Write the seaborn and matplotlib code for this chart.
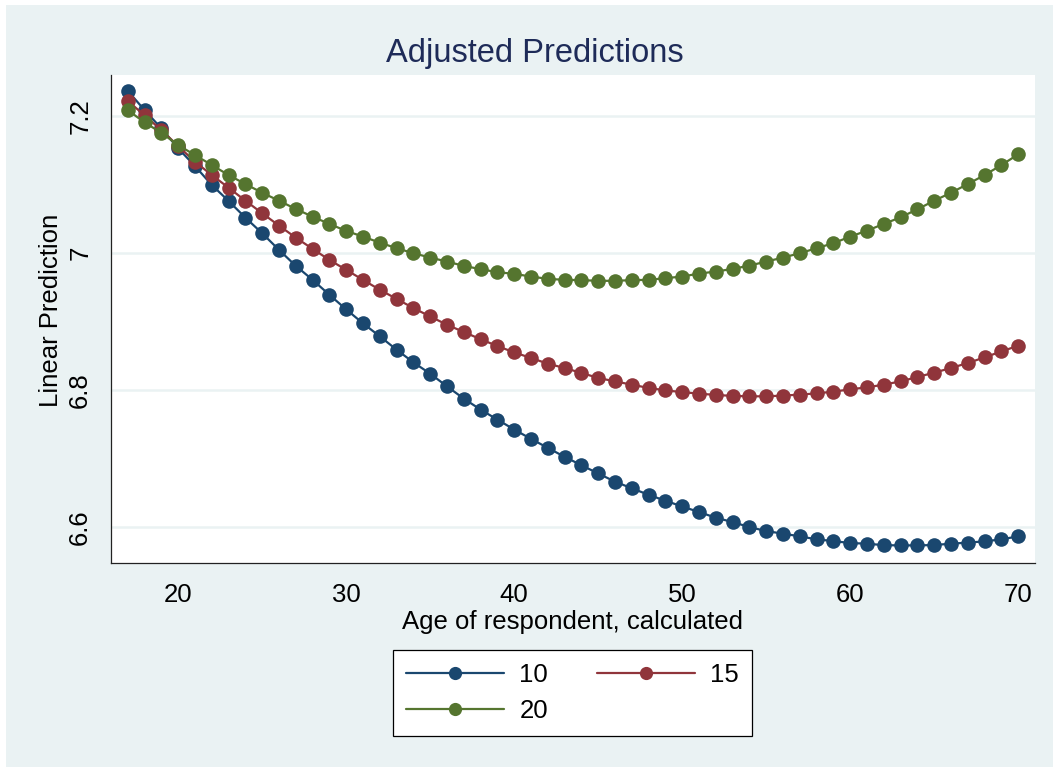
import matplotlib
matplotlib.use("Agg")
import matplotlib.pyplot as plt
import numpy as np
import pandas as pd
import seaborn as sns
from matplotlib.patches import Rectangle


AGES = list(range(17, 71))
GROUPS = ["10", "15", "20"]

PRED_10 = [
    7.2368, 7.2087, 7.1820, 7.1529, 7.1271, 7.0995, 7.0762, 7.0518, 7.0291, 7.0048,
    6.9815, 6.9611, 6.9393, 6.9180, 6.8976, 6.8787, 6.8592, 6.8407, 6.8242, 6.8057,
    6.7878, 6.7718, 6.7572, 6.7427, 6.7291, 6.7160, 6.7029, 6.6907, 6.6786, 6.6667,
    6.6570, 6.6475, 6.6388, 6.6305, 6.6223, 6.6141, 6.6077, 6.6004, 6.5946, 6.5908,
    6.5869, 6.5825, 6.5800, 6.5771, 6.5762, 6.5740, 6.5737, 6.5737, 6.5742, 6.5762,
    6.5777, 6.5796, 6.5825, 6.5869,
]
PRED_15 = [
    7.2222, 7.2010, 7.1796, 7.1563, 7.1334, 7.1140, 7.0955, 7.0766, 7.0583, 7.0402,
    7.0227, 7.0063, 6.9902, 6.9757, 6.9611, 6.9466, 6.9334, 6.9199, 6.9077, 6.8956,
    6.8850, 6.8745, 6.8645, 6.8553, 6.8471, 6.8388, 6.8325, 6.8253, 6.8180, 6.8130,
    6.8082, 6.8034, 6.7999, 6.7973, 6.7951, 6.7932, 6.7918, 6.7912, 6.7912, 6.7922,
    6.7937, 6.7955, 6.7980, 6.8014, 6.8043, 6.8082, 6.8130, 6.8194, 6.8257, 6.8325,
    6.8398, 6.8480, 6.8567, 6.8650,
]
PRED_20 = [
    7.2087, 7.1908, 7.1756, 7.1577, 7.1431, 7.1286, 7.1140, 7.1009, 7.0882, 7.0766,
    7.0645, 7.0533, 7.0427, 7.0325, 7.0242, 7.0154, 7.0073, 7.0000, 6.9936, 6.9878,
    6.9815, 6.9767, 6.9723, 6.9699, 6.9659, 6.9626, 6.9611, 6.9607, 6.9597, 6.9597,
    6.9607, 6.9611, 6.9636, 6.9659, 6.9703, 6.9732, 6.9771, 6.9819, 6.9878, 6.9936,
    7.0000, 7.0073, 7.0146, 7.0242, 7.0329, 7.0427, 7.0524, 7.0641, 7.0766, 7.0882,
    7.1009, 7.1140, 7.1286, 7.1442,
]

X_TICKS = [20, 30, 40, 50, 60, 70]
Y_TICKS = [6.6, 6.8, 7.0, 7.2]
Y_TICK_LABELS = ["6.6", "6.8", "7", "7.2"]

COLORS = ["#1A476F", "#90353B", "#55752F"]
BG = "#EAF2F3"
FONT = ["Liberation Sans", "DejaVu Sans"]

W, H = 1053, 769


def build_frame():
    rows = []
    for group, values in zip(GROUPS, [PRED_10, PRED_15, PRED_20]):
        for age, value in zip(AGES, values):
            rows.append({"age": age, "pred": value, "group": group})
    return pd.DataFrame(rows)


def main():
    sns.set_theme(style="white")
    plt.rcParams["font.family"] = FONT
    plt.rcParams["text.color"] = "black"

    df = build_frame()

    fig = plt.figure(figsize=(W / 100, H / 100), dpi=100, facecolor="white")
    fig.patches.append(
        Rectangle((6 / W, 2 / H), 1 - 6 / W, 1 - 7 / H, transform=fig.transFigure,
                  facecolor=BG, edgecolor="none", zorder=-10)
    )

    ax = fig.add_axes([111 / W, 1 - 563 / H, (1035 - 111) / W, (563 - 75) / H])
    ax.set_facecolor("white")

    sns.lineplot(
        data=df,
        x="age",
        y="pred",
        hue="group",
        hue_order=GROUPS,
        palette=COLORS,
        marker="o",
        markersize=10.5,
        markeredgewidth=0,
        linewidth=1.6,
        ax=ax,
        legend=True,
    )

    ax.set_xlim(16, 71)
    ax.set_ylim(6.548, 7.260)
    ax.set_xticks(X_TICKS)
    ax.set_xticklabels([str(t) for t in X_TICKS])
    ax.set_yticks(Y_TICKS)
    ax.set_yticklabels(Y_TICK_LABELS, rotation=90, va="center")

    ax.grid(axis="y", color=BG, linewidth=1.8)
    ax.grid(axis="x", visible=False)
    ax.set_axisbelow(True)

    for side in ["top", "right"]:
        ax.spines[side].set_visible(False)
    for side in ["left", "bottom"]:
        ax.spines[side].set_color("#222222")
        ax.spines[side].set_linewidth(0.9)

    ax.tick_params(axis="both", direction="out", length=7.5, width=0.9,
                   color="#222222", labelsize=18.5, labelcolor="black")
    ax.tick_params(axis="x", pad=7)
    ax.tick_params(axis="y", pad=6)

    ax.set_xlabel("Age of respondent, calculated", fontsize=18.5, labelpad=2, color="black")
    ax.set_ylabel("Linear Prediction", fontsize=18.5, labelpad=4, color="black")
    ax.yaxis.label.set_y(0.517)

    fig.text(535 / W, 1 - 62 / H, "Adjusted Predictions", ha="center", va="baseline",
             fontsize=23.5, color="#1E2B58")

    handles, labels = ax.get_legend_handles_labels()
    ax.get_legend().remove()
    # legend fills column-first, so reorder to get 10, 15 on the first row
    order = [0, 2, 1]
    leg = fig.legend(
        [handles[i] for i in order],
        [labels[i] for i in order],
        loc="center",
        bbox_to_anchor=(572.5 / W, 1 - 693 / H),
        ncol=2,
        fontsize=18.5,
        frameon=True,
        fancybox=False,
        edgecolor="black",
        facecolor="white",
        framealpha=1,
        handlelength=3.8,
        handletextpad=0.6,
        columnspacing=1.9,
        labelspacing=0.5,
        borderpad=0.5,
    )
    leg.get_frame().set_linewidth(0.9)
    for line in leg.get_lines():
        line.set_markersize(9.5)
    for text in leg.get_texts():
        text.set_color("black")

    fig.savefig("out.png", dpi=100, facecolor=fig.get_facecolor())
    plt.close(fig)


if __name__ == "__main__":
    main()
